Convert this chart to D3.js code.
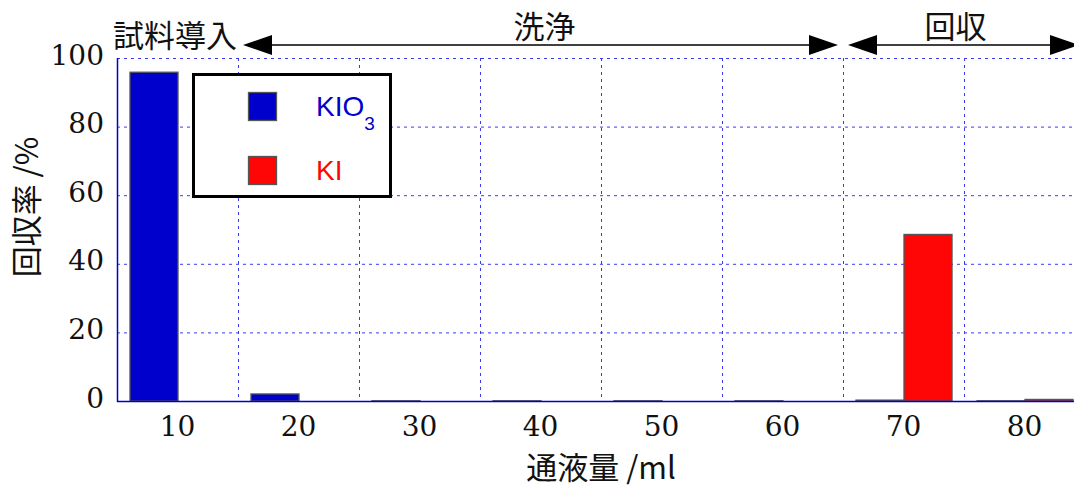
<!DOCTYPE html>
<html>
<head>
<meta charset="utf-8">
<script src="https://cdn.jsdelivr.net/npm/d3@7"></script>
<style>
  html, body { margin: 0; padding: 0; background: #fff; }
  svg { display: block; }
</style>
</head>
<body>
<svg id="chart" width="1074" height="487"></svg>
<script>
// Volume passed through the column (ml)
const categories = ["10", "20", "30", "40", "50", "60", "70", "80"];
// Recovery (%) per fraction
const kio3Values = [96, 2.2, 0.2, 0.2, 0.2, 0.2, 0.4, 0.2];
const kiValues   = [0, 0, 0, 0, 0, 0, 48.7, 0.6];
const seriesNames = ["KIO3", "KI"];
const yTicks = [0, 20, 40, 60, 80, 100];
// Process stages: [label, first fraction boundary, last fraction boundary]
const stages = [
  { label: "洗浄", from: "20", to: "70" },
  { label: "回収", from: "70", to: null }
];

const svg = d3.select("#chart");
const W = 1074, H = 487;
const plot = { left: 117, right: 1085, top: 58, bottom: 401 };
const sansJP = "'Noto Sans CJK JP', 'Noto Sans', sans-serif";
const serif = "'DejaVu Serif', 'Liberation Serif', serif";

svg.append("rect").attr("width", W).attr("height", H).attr("fill", "#fff");

const x = d3.scaleBand().domain(categories).range([plot.left, plot.right]).padding(0);
const xs = d3.scaleBand().domain(seriesNames).range([0, x.bandwidth()]).paddingInner(0).paddingOuter(0.26);
const y = d3.scaleLinear().domain([0, 100]).range([plot.bottom, plot.top]);

const gridColor = "#3a3af0";
const axisColor = "#0000cc";

// Horizontal grid (including top frame)
const grid = svg.append("g");
grid.selectAll("line.h").data(yTicks.filter(v => v > 0)).join("line")
  .attr("x1", plot.left).attr("x2", plot.right)
  .attr("y1", d => y(d) + 0.5).attr("y2", d => y(d) + 0.5)
  .attr("stroke", gridColor).attr("stroke-width", 1)
  .attr("stroke-dasharray", "3,4");

// Vertical grid at fraction boundaries
grid.selectAll("line.v").data(categories.slice(1)).join("line")
  .attr("x1", d => x(d) + 0.5).attr("x2", d => x(d) + 0.5)
  .attr("y1", plot.top).attr("y2", plot.bottom)
  .attr("stroke", gridColor).attr("stroke-width", 1)
  .attr("stroke-dasharray", "3,4");

// Bars
const colors = { KIO3: "#0000cc", KI: "#ff0606" };
const rows = categories.map((c, i) => ({ c, vals: [
  { s: "KIO3", v: kio3Values[i] }, { s: "KI", v: kiValues[i] } ] }));
const groups = svg.append("g").selectAll("g").data(rows).join("g")
  .attr("transform", d => `translate(${x(d.c)},0)`);
groups.selectAll("rect").data(d => d.vals.filter(e => e.v > 0)).join("rect")
  .attr("x", d => xs(d.s) + 0.5)
  .attr("width", xs.bandwidth())
  .attr("y", d => y(d.v) + 0.5)
  .attr("height", d => Math.max(0, y(0) - y(d.v) - 0.5))
  .attr("fill", d => colors[d.s])
  .attr("stroke", "#555")
  .attr("stroke-width", 1.3);

// Axis frame
svg.append("line").attr("x1", plot.left + 0.5).attr("x2", plot.left + 0.5)
  .attr("y1", plot.top).attr("y2", plot.bottom + 1)
  .attr("stroke", axisColor).attr("stroke-width", 1.5);
svg.append("line").attr("x1", plot.left).attr("x2", plot.right)
  .attr("y1", plot.bottom + 0.5).attr("y2", plot.bottom + 0.5)
  .attr("stroke", axisColor).attr("stroke-width", 1.5);

// Y axis labels
const yAxis = d3.axisLeft(y).tickValues(yTicks).tickSize(0).tickPadding(0);
const gy = svg.append("g").attr("transform", `translate(104,-4)`).call(yAxis);
gy.select(".domain").remove();
gy.selectAll("text").attr("font-family", serif).attr("font-size", 28)
  .attr("fill", "#111").attr("dy", "0.36em");

// X axis labels
const xAxis = d3.axisBottom(x).tickSize(0).tickPadding(0);
const gx = svg.append("g").attr("transform", `translate(0,${plot.bottom})`).call(xAxis);
gx.select(".domain").remove();
gx.selectAll("text").attr("font-family", serif).attr("font-size", 28)
  .attr("fill", "#111").attr("dy", null).attr("y", 35);

// Axis titles
svg.append("text").attr("x", 601).attr("y", 479).attr("text-anchor", "middle")
  .attr("font-family", sansJP).attr("font-size", 31).attr("fill", "#111")
  .text("通液量 /ml");
svg.append("text").attr("transform", "translate(38,207) rotate(-90)")
  .attr("text-anchor", "middle")
  .attr("font-family", sansJP).attr("font-size", 31).attr("fill", "#111")
  .text("回収率 /%");

// Legend
const lg = svg.append("g");
lg.append("rect").attr("x", 193.5).attr("y", 74.5).attr("width", 197).attr("height", 122)
  .attr("fill", "#fff").attr("stroke", "#000").attr("stroke-width", 3);
const legendItems = [
  { s: "KIO3", base: "KIO", sub: "3", yy: 92 },
  { s: "KI", base: "KI", sub: "", yy: 156 }
];
legendItems.forEach(it => {
  lg.append("rect").attr("x", 248.5).attr("y", it.yy + 0.5).attr("width", 28).attr("height", 28)
    .attr("fill", colors[it.s]).attr("stroke", "#555").attr("stroke-width", 1.3);
  const t = lg.append("text").attr("x", 316).attr("y", it.yy + 24)
    .attr("font-family", "'Liberation Sans', Arial, sans-serif").attr("font-size", 28)
    .attr("fill", colors[it.s]).text(it.base);
  if (it.sub) t.append("tspan").attr("font-size", 19).attr("dy", 14).text(it.sub);
});

// Process-stage annotations
const ann = svg.append("g");
const arrowY = 45;
function arrowHead(tipX, dir) {
  const L = 29, h = 10;
  ann.append("path")
    .attr("d", `M${tipX},${arrowY} L${tipX - dir * L},${arrowY - h} L${tipX - dir * L},${arrowY + h} Z`)
    .attr("fill", "#000");
}
ann.append("text").attr("x", 113).attr("y", 47)
  .attr("font-family", sansJP).attr("font-size", 31).attr("fill", "#111")
  .text("試料導入");
stages.forEach((st, i) => {
  const x0 = x(st.from) + 5;
  const x1 = st.to ? x(st.to) - 5 : plot.right - 6;
  ann.append("line").attr("x1", x0 + 20).attr("x2", x1 - 20)
    .attr("y1", arrowY).attr("y2", arrowY).attr("stroke", "#000").attr("stroke-width", 1.5);
  arrowHead(x0, -1);
  arrowHead(x1, 1);
  const cx = st.to ? (x0 + x1) / 2 + 4 : (x0 + x1) / 2 - 8;
  ann.append("text").attr("x", cx).attr("y", 38).attr("text-anchor", "middle")
    .attr("font-family", sansJP).attr("font-size", 31).attr("fill", "#111")
    .text(st.label);
});
</script>
</body>
</html>
